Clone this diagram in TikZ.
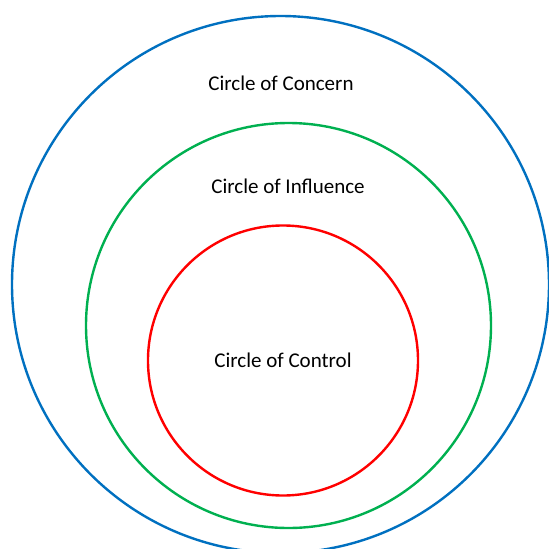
\documentclass[tikz,border=0pt]{standalone}
\usepackage{fontspec}
\setmainfont{Carlito}
\definecolor{concernblue}{HTML}{0070C0}
\definecolor{influencegreen}{HTML}{00B050}
\definecolor{controlred}{HTML}{FF0000}
\begin{document}
\begin{tikzpicture}[x=1pt,y=-1pt]
		\tikzstyle{every node}+=[inner sep=0pt, font=\fontsize{21}{25}\selectfont]
		\tikzstyle{ring}=[line width=2.4pt]
		\useasboundingbox (0,0) rectangle (549,549);
		\draw [ring, concernblue] (280.5,284.5) circle (268.5);
		\draw [ring, influencegreen] (288.5,325.5) circle (202.5);
		\draw [ring, controlred] (283,360.5) circle (135);
		\node (concern) at (281,83) {Circle of Concern};
		\node (influence) at (288,186) {Circle of Influence};
		\node (control) at (283,360) {Circle of Control};
	\end{tikzpicture}
\end{document}
